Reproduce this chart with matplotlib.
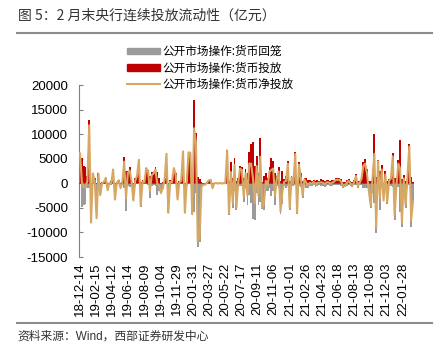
import numpy as np
import matplotlib
matplotlib.use("Agg")
import matplotlib.pyplot as plt
from matplotlib.patches import Patch
from matplotlib.lines import Line2D

plt.rcParams['font.family'] = ['Liberation Sans', 'Noto Sans CJK SC']

# 公开市场操作, weekly-ish readings (亿元), one row per tick interval
invest = [
    6100, 5200, 3600, 3400, 1500, 12800, 0, 2000,
    1000, 0, 2000, 0, 300, 500, 1100, 0,
    300, 400, 2900, 0, 300, 600, 0, 300,
    5400, 2600, 2600, 3400, 800, 0, 1000, 1500,
    4800, 300, 600, 400, 3100, 2700, 1500, 2200,
    2300, 3300, 2200, 1000, 0, 300, 1000, 6000,
    0, 600, 400, 3100, 2000, 0, 500, 500,
    6500, 0, 400, 6300, 6200, 0, 17000, 10300,
    1200, 800, 300, 0, 0, 200, 600, 700,
    0, 100, 100, 50, 100, 50, 100, 100,
    6700, 500, 4300, 1000, 5200, 500, 1000, 3500,
    3300, 1000, 3000, 2000, 6400, 8000, 8400, 3500,
    5500, 2000, 9200, 300, 1500, 2000, 1000, 3400,
    5200, 4500, 2000, 1500, 3400, 500, 2600, 800,
    1500, 4500, 500, 1500, 500, 6300, 300, 4300,
    2000, 500, 1100, 1100, 600, 600, 500, 700,
    500, 600, 500, 800, 600, 500, 700, 600,
    500, 600, 700, 1000, 1000, 1100, 800, 300,
    300, 600, 900, 500, 200, 600, 1800, 400,
    500, 1200, 4400, 5000, 3000, 500, 500, 3000,
    10000, 1200, 4800, 2500, 3800, 0, 2600, 500,
    800, 1500, 6200, 1000, 1000, 4800, 8800, 800,
    1600, 500, 2500, 7900, 1300, 300,
]
withdraw = [
    0, -4900, -4400, -4200, -1000, -1000, -8000, 0,
    -500, -7100, 0, -2400, -300, -200, 0, -1400,
    -200, -400, -100, -3300, -200, 0, -1000, -300,
    -1000, -5600, -500, -800, -300, -3500, -500, 0,
    0, -4800, -300, -200, 0, -300, -3000, -500,
    -300, -500, -2300, -1500, -2000, -1200, -200, 0,
    -6000, -300, -200, 0, -200, -3300, -300, 0,
    0, -6000, -300, 0, 0, -6300, -5800, -2000,
    -13000, -12000, -1000, -300, -300, -100, 0, 0,
    -1000, -100, -50, -100, -50, -100, -50, -100,
    0, -6500, -2000, -5000, -1500, -5500, -800, -500,
    -600, -3800, -1000, -4500, -2400, -4000, -7300, -7500,
    -2000, -4500, -3800, -5300, -5500, -1500, -1500, -1000,
    -2500, -1500, -4500, -500, -1000, -6200, -4300, -500,
    -1000, -500, -5500, -300, -500, -300, -6300, -500,
    -800, -3000, -300, -1000, -1000, -500, -600, -400,
    -700, -500, -400, -600, -500, -700, -500, -400,
    -600, -500, -400, -300, -300, -400, -500, -900,
    -800, -500, -400, -500, -700, -400, -300, -1000,
    -400, -300, -900, -1000, -1000, -2000, -5000, -2000,
    -4000, -10200, -300, -5500, -1000, -3500, -800, -4300,
    -300, -500, -700, -7500, -1500, -800, -5800, -8800,
    -600, -5000, -1000, -400, -8800, -4000,
]
tick_labels = ['18-12-14', '19-02-15', '19-04-12', '19-06-14', '19-08-09',
               '19-10-04', '19-11-29', '20-01-31', '20-03-27', '20-05-22',
               '20-07-17', '20-09-11', '20-11-06', '21-01-01', '21-02-26',
               '21-04-23', '21-06-18', '21-08-13', '21-10-08', '21-12-03',
               '22-01-28']

invest = np.array(invest)
withdraw = np.array(withdraw)
net = invest + withdraw
x = np.arange(len(invest))

c_gray = '#9b9b9b'
c_red = '#c00000'
c_line = '#d7a864'

fig = plt.figure(figsize=(4.4, 3.56), dpi=100)
ax = fig.add_axes([79 / 440, 99 / 356, 335 / 440, 172 / 356])

ax.bar(x, withdraw, width=1.0, color=c_gray, linewidth=0, zorder=2)
ax.bar(x, invest, width=1.0, color=c_red, linewidth=0, zorder=2)
ax.axhline(0, color='#505050', lw=0.6, zorder=3)
ax.plot(x, net, color=c_line, lw=1.5, zorder=4)

ax.set_xlim(-0.55, len(x) - 0.45)
ax.set_ylim(-15000, 20000)
ax.set_yticks(range(-15000, 20001, 5000))
ax.set_yticklabels([str(v) for v in range(-15000, 20001, 5000)], fontsize=9.5)
ax.set_xticks(np.linspace(0, 175.5, len(tick_labels)))
ax.set_xticklabels(tick_labels, rotation=90, fontsize=9.5)
ax.tick_params(axis='x', length=0, pad=4)
ax.tick_params(axis='y', direction='in', length=3, color='#808080', pad=8)

for side in ['top', 'right', 'bottom']:
    ax.spines[side].set_visible(False)
ax.spines['left'].set_color('#808080')
ax.spines['left'].set_linewidth(0.8)

handles = [Patch(color=c_gray), Patch(color=c_red),
           Line2D([], [], color=c_line, lw=1.5)]
labels = ['公开市场操作:货币回笼', '公开市场操作:货币投放', '公开市场操作:货币净投放']
fig.legend(handles, labels, loc='upper left', bbox_to_anchor=(127 / 440, 1 - 45 / 356),
           frameon=False, fontsize=8.4, borderpad=0, borderaxespad=0,
           handlelength=2.85, handleheight=0.5, handletextpad=0.2, labelspacing=0.3,
           prop={'family': ['Noto Sans CJK SC'], 'size': 8.4})

fig.text(18 / 440, 1 - 16 / 356, '图 5：2 月末央行连续投放流动性（亿元）',
         fontsize=10, va='center', ha='left', color='#333333',
         family=['Noto Sans CJK SC'])
fig.add_artist(Line2D([17 / 440, 432 / 440], [1 - 33 / 356, 1 - 33 / 356],
                      color='#8c8c8c', lw=1.5))
fig.add_artist(Line2D([17 / 440, 432 / 440], [1 - 323 / 356, 1 - 323 / 356],
                      color='#8c8c8c', lw=1.5))
fig.text(17 / 440, 1 - 337 / 356, '资料来源：Wind，西部证券研发中心',
         fontsize=8.5, va='center', ha='left', color='#333333')

fig.savefig('out.png', dpi=100)
